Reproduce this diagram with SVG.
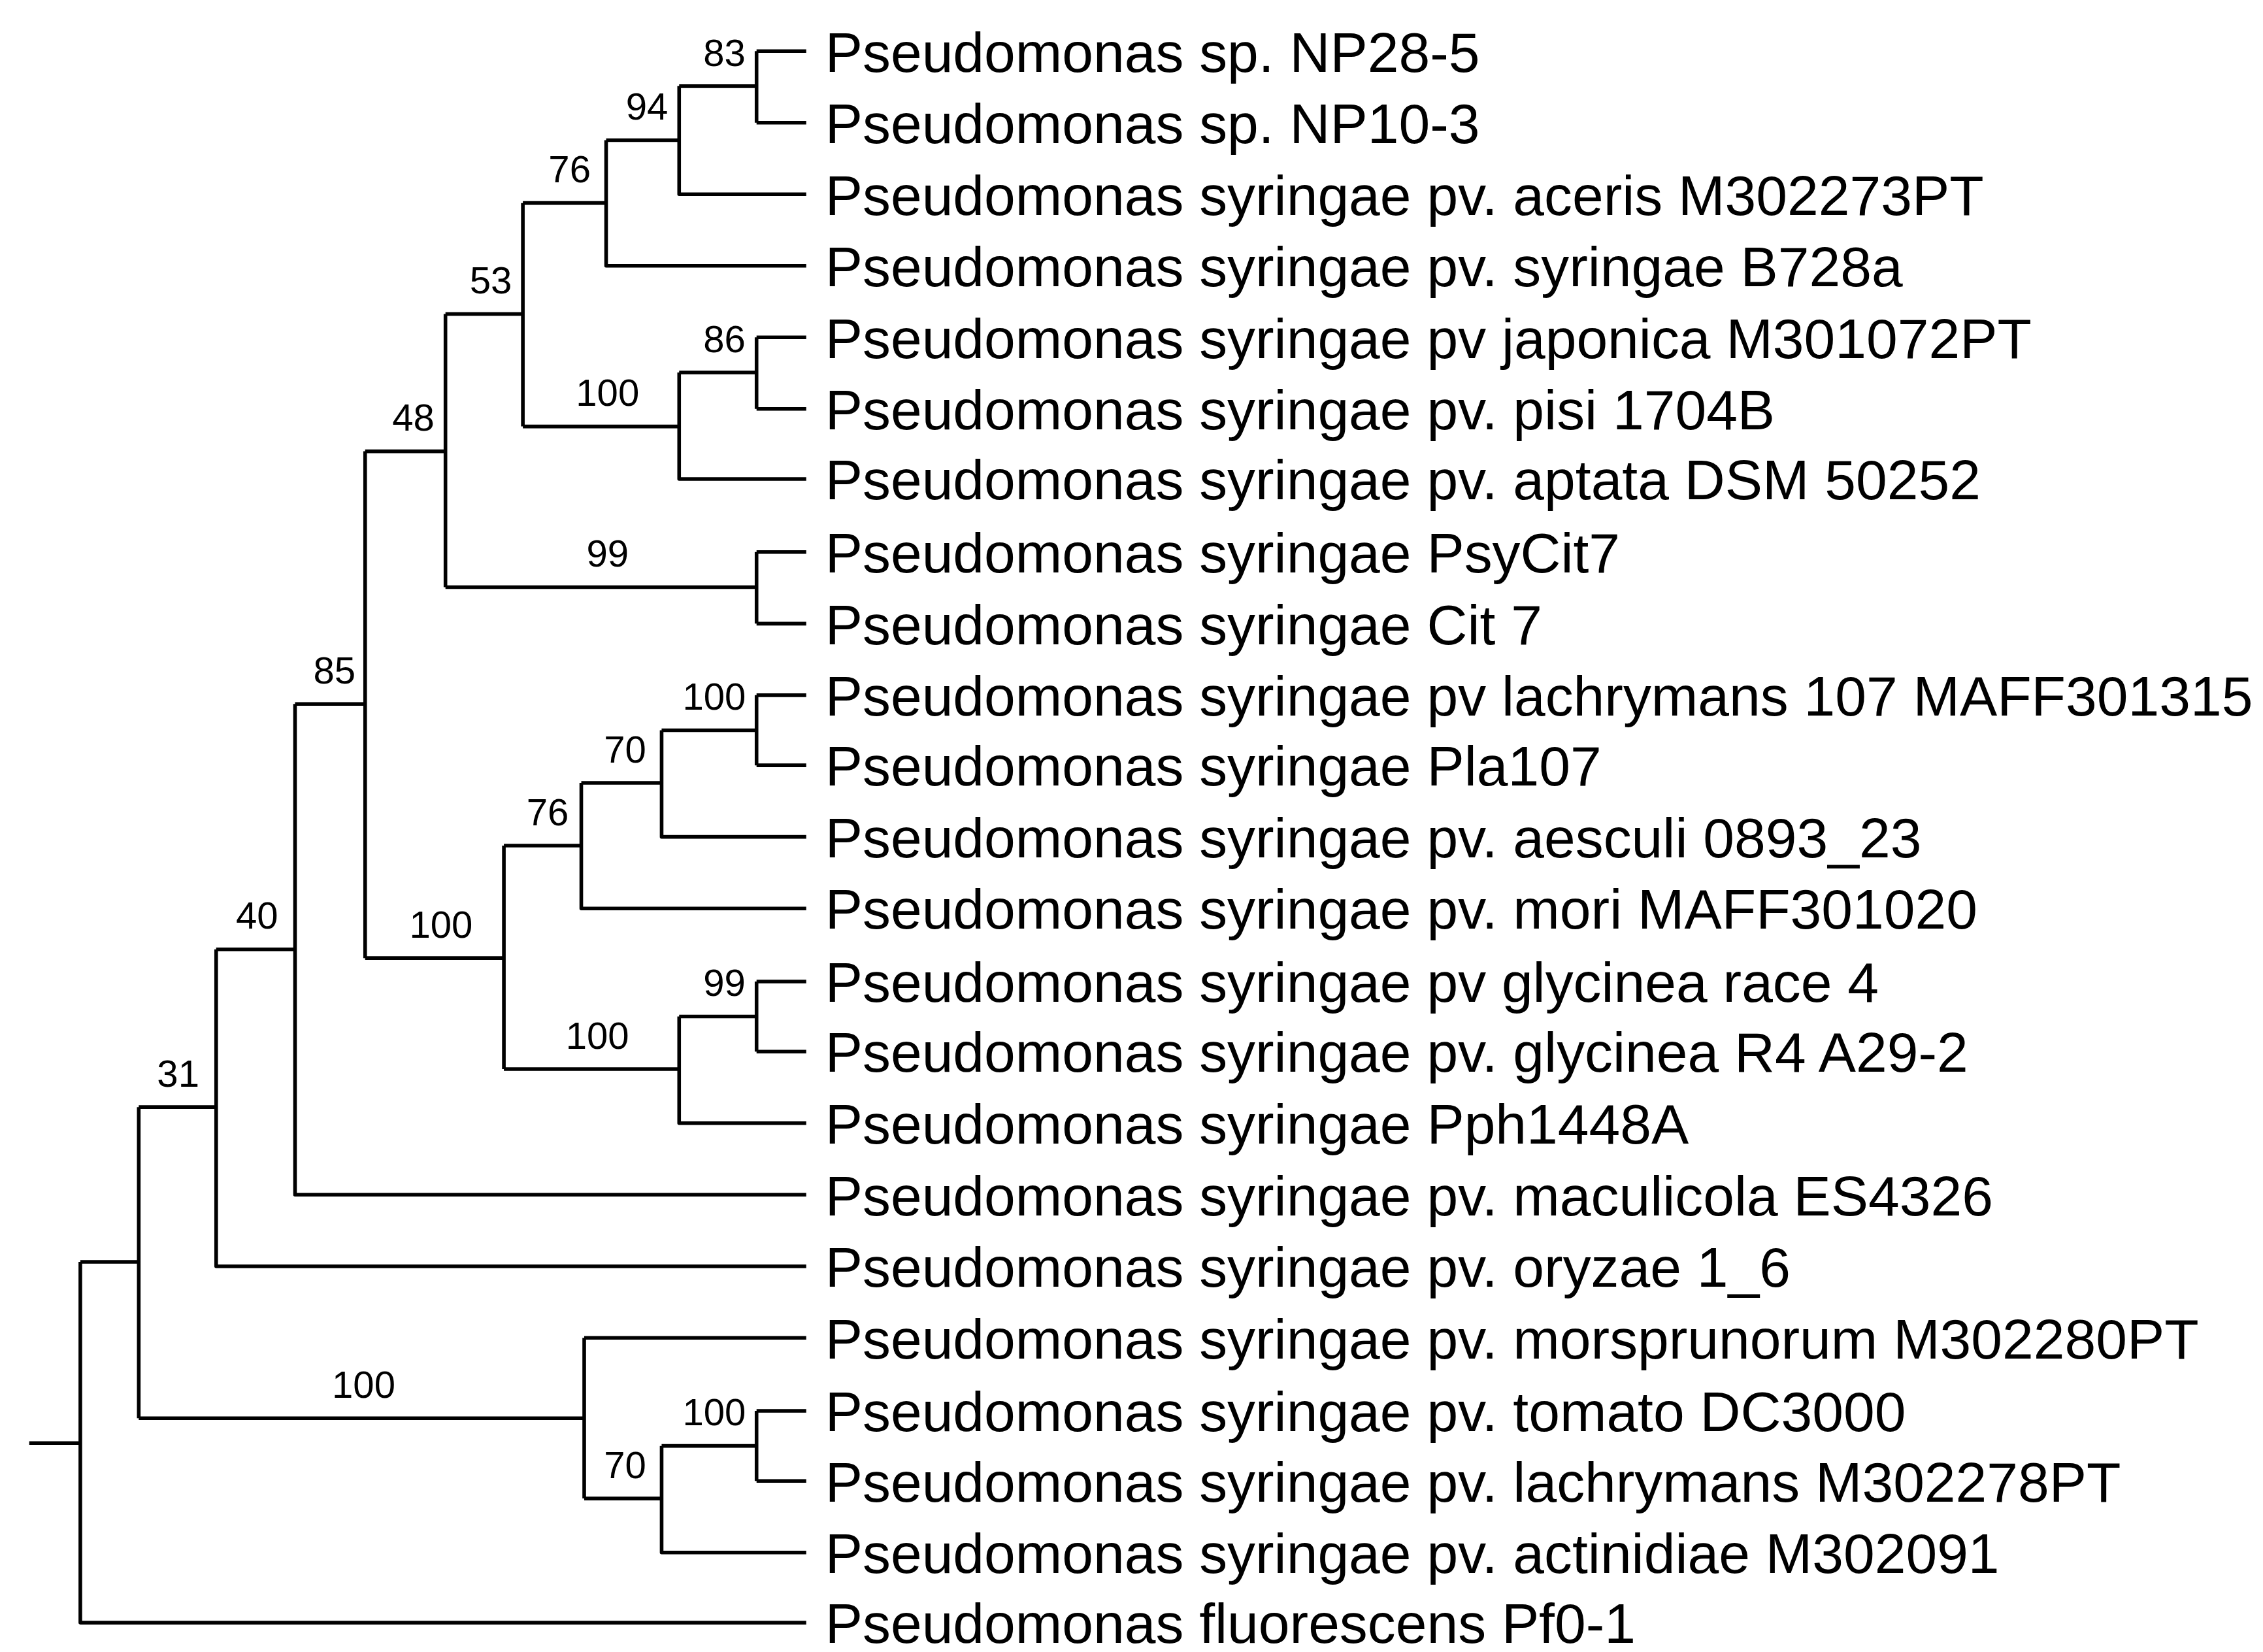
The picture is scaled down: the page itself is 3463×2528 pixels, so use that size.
<svg xmlns="http://www.w3.org/2000/svg" width="3463" height="2528" viewBox="0 0 3463 2528">
<style>
.e{fill:none;stroke:#000;stroke-width:2.5;stroke-linejoin:round;stroke-linecap:butt}
.l{font-family:"Liberation Sans",Arial,sans-serif;font-size:38.4px;fill:#000}
.b{font-family:"Liberation Sans",Arial,sans-serif;font-size:26px;fill:#000;text-anchor:middle}
</style>
<rect width="3463" height="2528" fill="#fff"/>
<g transform="scale(2.235)">
<g id="connectors">
<path class="e" d="M20,988H55M55,864V1111H552M55,864H95M95,758V971M95,758H148M95,971H400M148,650V867H552M148,650H202M202,482V818H552M202,482H250M250,309V656M250,309H305M250,656H345M305,215V402M305,215H358M305,402H518M358,139V292M358,139H415M358,292H465M415,96V182H552M415,96H465M465,59V133H552M465,59H518M518,35V84M518,35H552M518,84H552M465,255V328H552M465,255H518M518,231V280M518,231H552M518,280H552M518,378V427M518,378H552M518,427H552M345,579V732M345,579H398M345,732H465M398,536V622H552M398,536H453M453,500V573H552M453,500H518M518,476V524M518,476H552M518,524H552M465,696V769H552M465,696H518M518,672V720M518,672H552M518,720H552M400,916V1026M400,916H552M400,1026H453M453,990V1063H552M453,990H518M518,966V1014M518,966H552M518,1014H552"/>
</g>
<g id="bootstrap">
<text class="b" x="496" y="45">83</text>
<text class="b" x="443" y="82">94</text>
<text class="b" x="390" y="125">76</text>
<text class="b" x="336" y="201">53</text>
<text class="b" x="496" y="241">86</text>
<text class="b" x="416" y="278">100</text>
<text class="b" x="283" y="295">48</text>
<text class="b" x="416" y="388">99</text>
<text class="b" x="229" y="468">85</text>
<text class="b" x="489" y="486">100</text>
<text class="b" x="428" y="522">70</text>
<text class="b" x="375" y="565">76</text>
<text class="b" x="302" y="642">100</text>
<text class="b" x="176" y="636">40</text>
<text class="b" x="496" y="682">99</text>
<text class="b" x="409" y="718">100</text>
<text class="b" x="122" y="744">31</text>
<text class="b" x="249" y="957">100</text>
<text class="b" x="489" y="976">100</text>
<text class="b" x="428" y="1012">70</text>
</g>
<g id="leaf1"><text class="l" x="565" y="49">Pseudomonas sp. NP28-5</text></g>
<g id="leaf2"><text class="l" x="565" y="98">Pseudomonas sp. NP10-3</text></g>
<g id="leaf3"><text class="l" x="565" y="147">Pseudomonas syringae pv. aceris M302273PT</text></g>
<g id="leaf4"><text class="l" x="565" y="196">Pseudomonas syringae pv. syringae B728a</text></g>
<g id="leaf5"><text class="l" x="565" y="245">Pseudomonas syringae pv japonica M301072PT</text></g>
<g id="leaf6"><text class="l" x="565" y="294">Pseudomonas syringae pv. pisi 1704B</text></g>
<g id="leaf7"><text class="l" x="565" y="342">Pseudomonas syringae pv. aptata DSM 50252</text></g>
<g id="leaf8"><text class="l" x="565" y="392">Pseudomonas syringae PsyCit7</text></g>
<g id="leaf9"><text class="l" x="565" y="441">Pseudomonas syringae Cit 7</text></g>
<g id="leaf10"><text class="l" x="565" y="490">Pseudomonas syringae pv lachrymans 107 MAFF301315</text></g>
<g id="leaf11"><text class="l" x="565" y="538">Pseudomonas syringae Pla107</text></g>
<g id="leaf12"><text class="l" x="565" y="587">Pseudomonas syringae pv. aesculi 0893_23</text></g>
<g id="leaf13"><text class="l" x="565" y="636">Pseudomonas syringae pv. mori MAFF301020</text></g>
<g id="leaf14"><text class="l" x="565" y="686">Pseudomonas syringae pv glycinea race 4</text></g>
<g id="leaf15"><text class="l" x="565" y="734">Pseudomonas syringae pv. glycinea R4 A29-2</text></g>
<g id="leaf16"><text class="l" x="565" y="783">Pseudomonas syringae Pph1448A</text></g>
<g id="leaf17"><text class="l" x="565" y="832">Pseudomonas syringae pv. maculicola ES4326</text></g>
<g id="leaf18"><text class="l" x="565" y="881">Pseudomonas syringae pv. oryzae 1_6</text></g>
<g id="leaf19"><text class="l" x="565" y="930">Pseudomonas syringae pv. morsprunorum M302280PT</text></g>
<g id="leaf20"><text class="l" x="565" y="980">Pseudomonas syringae pv. tomato DC3000</text></g>
<g id="leaf21"><text class="l" x="565" y="1028">Pseudomonas syringae pv. lachrymans M302278PT</text></g>
<g id="leaf22"><text class="l" x="565" y="1077">Pseudomonas syringae pv. actinidiae M302091</text></g>
<g id="leaf23"><text class="l" x="565" y="1125">Pseudomonas fluorescens Pf0-1</text></g>
</g>
</svg>
